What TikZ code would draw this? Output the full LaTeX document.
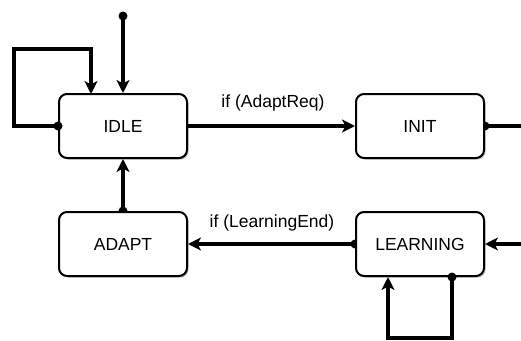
\documentclass[tikz,border=0pt]{standalone}
\usepackage{fontspec}
\setmainfont{Liberation Sans}
\usetikzlibrary{arrows.meta,shadows,backgrounds}
\begin{document}
\begin{tikzpicture}[x=1pt,y=-1pt,
  state/.style={draw, line width=2pt, rounded corners=8pt, fill=white,
    minimum width=128pt, minimum height=64pt, inner sep=0pt,
    font=\fontsize{17.5}{20}\selectfont,
    drop shadow={shadow xshift=1.5pt, shadow yshift=-1.5pt, opacity=0.25, fill=black}},
  conn/.style={line width=3.2pt, -{Stealth[length=13pt,width=13pt,inset=3.5pt]}},
  plain/.style={line width=3.2pt},
  lbl/.style={font=\fontsize{17.5}{20}\selectfont, inner sep=0pt},
  dotfill/.style={fill=black}]
\useasboundingbox (0,0) rectangle (521,340);

\node[state] (idle) at (123,126) {IDLE};
\node[state] (init) at (420,126) {INIT};
\node[state] (adapt) at (123,244) {ADAPT};
\node[state] (learning) at (420,244) {LEARNING};

\node[lbl] (lab1) at (273,103) {if (AdaptReq)};
\node[lbl] (lab2) at (272,223) {if (LearningEnd)};

\coordinate (start) at (123,16);
\coordinate (l1) at (14,126);
\coordinate (l2) at (14,49);
\coordinate (l3) at (91,49);
\coordinate (l4) at (91,94);
\coordinate (initout) at (521,126);
\coordinate (learnin) at (521,244);
\coordinate (ls) at ([xshift=32pt]learning.south);
\coordinate (m1) at (452,338);
\coordinate (m2) at (388,338);
\coordinate (le) at ([xshift=-32pt]learning.south);

\begin{pgfonlayer}{background}
  \draw[plain] (init.east) -- (initout);
  \fill[dotfill] (init.east) circle (4.5pt);
  \draw[conn] (learning.west) -- (adapt.east);
  \fill[dotfill] (learning.west) circle (4.5pt);
  \draw[conn] (adapt.north) -- (idle.south);
  \fill[dotfill] (adapt.north) circle (4.5pt);
\end{pgfonlayer}

\draw[conn] (start) -- (idle.north);
\fill[dotfill] (start) circle (4.5pt);

\draw[conn] (idle.west) -- (l1) -- (l2) -- (l3) -- (l4);
\fill[dotfill] (idle.west) circle (4.5pt);

\draw[conn] (idle.east) -- (init.west);
\draw[conn] (learnin) -- (learning.east);

\draw[conn] (ls) -- (m1) -- (m2) -- (le);
\fill[dotfill] (ls) circle (4.5pt);
\end{tikzpicture}
\end{document}
